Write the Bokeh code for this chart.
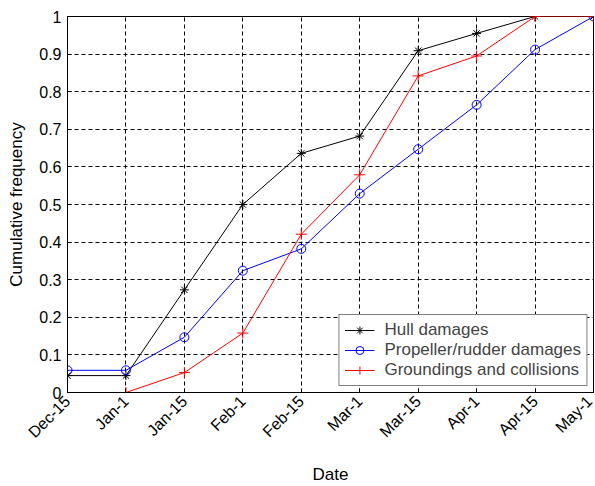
from math import pi
from bokeh.plotting import figure
from bokeh.models import FixedTicker, Range1d, Legend, LegendItem
from bokeh.embed import file_html
from bokeh.resources import INLINE

dates = ["Dec-15", "Jan-1", "Jan-15", "Feb-1", "Feb-15", "Mar-1", "Mar-15", "Apr-1", "Apr-15", "May-1"]
hull = [0.045, 0.045, 0.273, 0.5, 0.636, 0.682, 0.909, 0.955, 1.0, 1.0]
propeller = [0.059, 0.059, 0.147, 0.324, 0.382, 0.529, 0.647, 0.765, 0.912, 1.0]
groundings = [0.0, 0.0, 0.053, 0.158, 0.421, 0.579, 0.842, 0.895, 1.0, 1.0]
yticks = [0, 0.1, 0.2, 0.3, 0.4, 0.5, 0.6, 0.7, 0.8, 0.9, 1.0]
ytick_labels = ["0", "0.1", "0.2", "0.3", "0.4", "0.5", "0.6", "0.7", "0.8", "0.9", "1"]

xs = list(range(len(dates)))
FONT = "Liberation Sans"

p = figure(width=595, height=486, output_backend="svg", toolbar_location=None,
           x_range=Range1d(0, len(dates) - 1), y_range=Range1d(0, 1),
           min_border_left=67, min_border_right=2, min_border_top=16, min_border_bottom=94)
p.background_fill_color = "white"
p.border_fill_color = "white"
p.outline_line_color = "black"
p.outline_line_width = 1

p.xaxis.ticker = FixedTicker(ticks=xs)
p.xaxis.major_label_overrides = {i: d for i, d in enumerate(dates)}
p.xaxis.major_label_orientation = pi / 4
p.yaxis.ticker = FixedTicker(ticks=yticks)
p.yaxis.major_label_overrides = {t: l for t, l in zip(yticks, ytick_labels)}

for ax in (p.xaxis[0], p.yaxis[0]):
    ax.axis_line_color = "black"
    ax.major_tick_in = 4
    ax.major_tick_out = 0
    ax.minor_tick_line_color = None
    ax.major_label_text_font = FONT
    ax.major_label_text_font_size = "16px"
    ax.major_label_text_color = "black"
    ax.major_label_standoff = 6
    ax.axis_label_text_font = FONT
    ax.axis_label_text_font_size = "17px"
    ax.axis_label_text_font_style = "normal"
    ax.axis_label_text_color = "black"

p.xaxis.axis_label = "Date"
p.yaxis.axis_label = "Cumulative frequency"
p.xaxis.axis_label_standoff = 15
p.yaxis.axis_label_standoff = 10

p.grid.grid_line_color = "black"
p.grid.grid_line_dash = "4 3"
p.grid.grid_line_width = 1
p.grid.grid_line_alpha = 1

r1l = p.line(xs, hull, line_color="black", line_width=1)
r1m = p.scatter(xs, hull, marker="asterisk", size=9, line_color="black", line_width=1)
r2l = p.line(xs, propeller, line_color="blue", line_width=1)
r2m = p.scatter(xs, propeller, marker="circle", size=9, line_color="blue", fill_color=None, line_width=1)
r3l = p.line(xs, groundings, line_color="red", line_width=1)
r3m = p.scatter(xs, groundings, marker="cross", size=11, line_color="red", line_width=1)

legend = Legend(items=[
    LegendItem(label="Hull damages", renderers=[r1l, r1m]),
    LegendItem(label="Propeller/rudder damages", renderers=[r2l, r2m]),
    LegendItem(label="Groundings and collisions", renderers=[r3l, r3m]),
], location="bottom_right")
legend.margin = 6
legend.padding = 5
legend.spacing = 0
legend.label_text_font = FONT
legend.label_text_font_size = "17px"
legend.label_height = 20
legend.glyph_height = 20
legend.glyph_width = 30
legend.label_standoff = 10
legend.border_line_color = "black"
legend.border_line_width = 1
legend.background_fill_alpha = 1
p.add_layout(legend, "center")

open("out.html", "w").write(file_html(p, INLINE))
